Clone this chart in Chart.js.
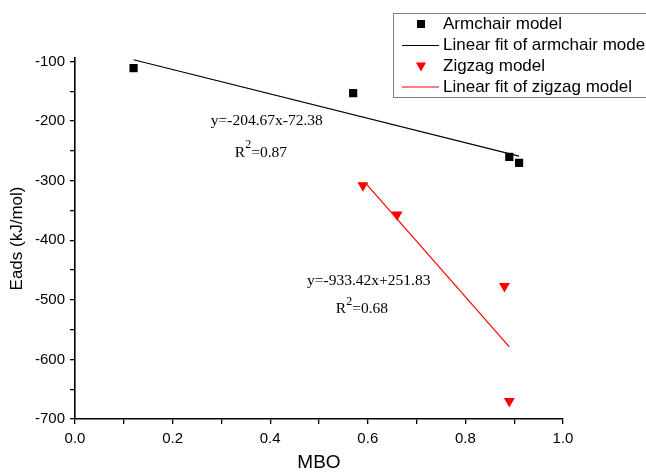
<!DOCTYPE html>
<html>
<head>
<meta charset="utf-8">
<script src="https://cdn.jsdelivr.net/npm/chart.js@4.4.1/dist/chart.umd.min.js"></script>
<style>
  html, body { margin: 0; padding: 0; background: #fff; }
  #wrap { width: 646px; height: 472px; }
</style>
</head>
<body>
<div id="wrap"><canvas id="mboChart" width="646" height="472"></canvas></div>
<script>
// Adsorption energy against MBO for the two edge models
const armchairMBO = [0.12, 0.57, 0.89, 0.91];
const armchairEads = [-111, -153, -260, -270];
const zigzagMBO = [0.59, 0.66, 0.88, 0.89];
const zigzagEads = [-308, -357, -477, -670];

// linear fits (slope, intercept) and the MBO range each one covers
const fitSlopes = [-204.67, -933.42];
const fitIntercepts = [-72.38, 251.83];
const fitRanges = [[0.12, 0.91], [0.595, 0.89]];
const fitEquations = ['y=-204.67x-72.38', 'y=-933.42x+251.83'];
const fitR2 = ['0.87', '0.68'];

const seriesNames = ['Armchair model', 'Linear fit of armchair model', 'Zigzag model', 'Linear fit of zigzag model'];

// tick positions (minor ones included) and the ones that carry a label
const xTickValues = [0, 0.1, 0.2, 0.3, 0.4, 0.5, 0.6, 0.7, 0.8, 0.9, 1.0];
const xLabelValues = [0, 0.2, 0.4, 0.6, 0.8, 1.0];
const yTickValues = [-700, -650, -600, -550, -500, -450, -400, -350, -300, -250, -200, -150, -100];
const yLabelValues = [-700, -600, -500, -400, -300, -200, -100];

const RED = '#ff0000';

function fitPoints(i) {
  return fitRanges[i].map(x => ({ x: x, y: fitSlopes[i] * x + fitIntercepts[i] }));
}

function toPoints(xs, ys) {
  return xs.map((x, i) => ({ x: x, y: ys[i] }));
}

// equation text boxes, placed in data units
const notes = [
  { x: 0.393, y: -199, ry: -254, rx: 0.381, eq: fitEquations[0], r2: fitR2[0] },
  { x: 0.602, y: -469, ry: -516, rx: 0.588, eq: fitEquations[1], r2: fitR2[1] }
];

const notesPlugin = {
  id: 'fitNotes',
  afterDatasetsDraw(chart) {
    const ctx = chart.ctx;
    const xs = chart.scales.x, ys = chart.scales.y;
    const big = '15.5px "Liberation Serif", "Times New Roman", serif';
    const small = '12px "Liberation Serif", "Times New Roman", serif';
    ctx.save();
    ctx.fillStyle = '#000';
    ctx.textBaseline = 'middle';
    notes.forEach(n => {
      ctx.font = big;
      ctx.textAlign = 'center';
      ctx.fillText(n.eq, xs.getPixelForValue(n.x), ys.getPixelForValue(n.y));

      // R squared with a raised 2
      const cx = xs.getPixelForValue(n.rx), cy = ys.getPixelForValue(n.ry);
      ctx.font = big;
      const wR = ctx.measureText('R').width;
      const wRest = ctx.measureText('=' + n.r2).width;
      ctx.font = small;
      const w2 = ctx.measureText('2').width;
      const x0 = cx - (wR + w2 + wRest) / 2;
      ctx.textAlign = 'left';
      ctx.font = big;
      ctx.fillText('R', x0, cy);
      ctx.font = small;
      ctx.fillText('2', x0 + wR, cy - 8);
      ctx.font = big;
      ctx.fillText('=' + n.r2, x0 + wR + w2, cy);
    });
    ctx.restore();
  }
};

// boxed legend in the upper right corner
const legendPlugin = {
  id: 'boxLegend',
  afterDraw(chart) {
    const ctx = chart.ctx;
    const rows = [24, 45.5, 66.5, 87];
    const kinds = ['rect', 'line', 'triangle', 'line'];
    const colors = ['#000', '#000', RED, RED];
    ctx.save();
    ctx.strokeStyle = '#808080';
    ctx.lineWidth = 1;
    ctx.strokeRect(393.5, 13.5, 270, 84);
    ctx.font = '17px "Liberation Sans", Arial, sans-serif';
    ctx.textBaseline = 'middle';
    ctx.textAlign = 'left';
    rows.forEach((y, i) => {
      ctx.fillStyle = colors[i];
      ctx.strokeStyle = colors[i];
      if (kinds[i] === 'rect') {
        ctx.fillRect(417, y - 4, 8, 8);
      } else if (kinds[i] === 'triangle') {
        ctx.beginPath();
        ctx.moveTo(416, y - 4);
        ctx.lineTo(426, y - 4);
        ctx.lineTo(421, y + 5);
        ctx.closePath();
        ctx.fill();
      } else {
        ctx.lineWidth = 1.2;
        ctx.beginPath();
        ctx.moveTo(402, y);
        ctx.lineTo(439, y);
        ctx.stroke();
      }
      ctx.fillStyle = '#000';
      ctx.fillText(seriesNames[i], 443, y);
    });
    ctx.restore();
  }
};

const tickFont = { family: '"Liberation Sans", Arial, sans-serif', size: 15 };

new Chart(document.getElementById('mboChart'), {
  type: 'scatter',
  data: {
    datasets: [
      {
        label: seriesNames[1],
        data: fitPoints(0),
        showLine: true,
        borderColor: '#000',
        borderWidth: 1.2,
        pointRadius: 0
      },
      {
        label: seriesNames[3],
        data: fitPoints(1),
        showLine: true,
        borderColor: RED,
        borderWidth: 1.2,
        pointRadius: 0
      },
      {
        label: seriesNames[0],
        data: toPoints(armchairMBO, armchairEads),
        pointStyle: 'rect',
        pointRadius: 5.8,
        backgroundColor: '#000',
        borderWidth: 0
      },
      {
        label: seriesNames[2],
        data: toPoints(zigzagMBO, zigzagEads),
        pointStyle: 'triangle',
        rotation: 180,
        pointRadius: 6.3,
        backgroundColor: RED,
        borderWidth: 0
      }
    ]
  },
  options: {
    responsive: false,
    animation: false,
    layout: { padding: { top: 58, right: 83, left: 0, bottom: 0 } },
    plugins: {
      legend: { display: false },
      tooltip: { enabled: false }
    },
    scales: {
      x: {
        type: 'linear',
        min: 0,
        max: 1,
        afterFit: s => { s.height = 53; },
        afterBuildTicks: s => { s.ticks = xTickValues.map(v => ({ value: v })); },
        border: { color: '#000', width: 1.6 },
        grid: { drawOnChartArea: false, color: '#000', lineWidth: 1.3, tickLength: 5 },
        ticks: {
          color: '#000',
          font: tickFont,
          padding: 6,
          maxRotation: 0,
          autoSkip: false,
          callback: v => xLabelValues.some(l => Math.abs(l - v) < 1e-6) ? v.toFixed(1) : ''
        },
        title: {
          display: true,
          text: 'MBO',
          color: '#000',
          font: { family: '"Liberation Sans", Arial, sans-serif', size: 19, lineHeight: 1.0 },
          padding: { top: 0, bottom: 0 }
        }
      },
      y: {
        type: 'linear',
        min: -700,
        max: -94,
        afterFit: s => { s.width = 75; },
        afterBuildTicks: s => { s.ticks = yTickValues.map(v => ({ value: v })); },
        border: { color: '#000', width: 1.6 },
        grid: { drawOnChartArea: false, color: '#000', lineWidth: 1.3, tickLength: 5 },
        ticks: {
          color: '#000',
          font: tickFont,
          padding: 5,
          autoSkip: false,
          callback: v => yLabelValues.includes(v) ? String(v) : ''
        },
        title: {
          display: true,
          text: 'Eads (kJ/mol)',
          color: '#000',
          font: { family: '"Liberation Sans", Arial, sans-serif', size: 17, lineHeight: 1.2 },
          padding: { top: 7, bottom: 0 }
        }
      }
    }
  },
  plugins: [notesPlugin, legendPlugin]
});
</script>
</body>
</html>
